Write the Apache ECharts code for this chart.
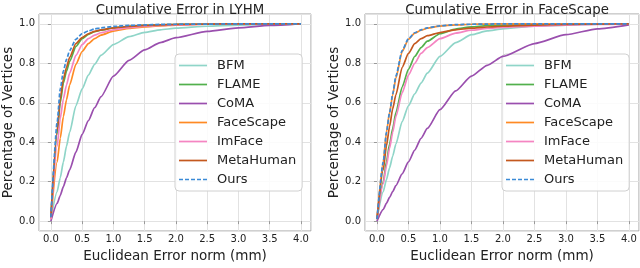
<!DOCTYPE html>
<html><head><meta charset="utf-8">
<script src="https://cdn.jsdelivr.net/npm/echarts@6/dist/echarts.min.js"></script>
<style>html,body{margin:0;padding:0;background:#fff}#c{width:640px;height:268px}</style>
</head><body><div id="c"></div><script>
// error thresholds (mm)
const xs = [0, 0.1, 0.15, 0.2, 0.25, 0.3, 0.4, 0.5, 0.6, 0.7, 0.8, 1.0, 1.25, 1.5, 1.75, 2.0, 2.5, 3.0, 3.5, 4.0];
const names = ['BFM', 'FLAME', 'CoMA', 'FaceScape', 'ImFace', 'MetaHuman', 'Ours'];
const titles = ['Cumulative Error in LYHM', 'Cumulative Error in FaceScape'];
const xTicks = [0, 0.5, 1.0, 1.5, 2.0, 2.5, 3.0, 3.5, 4.0];
const yTicks = [0.0, 0.2, 0.4, 0.6, 0.8, 1.0];

// LYHM
const lyhmBFM       = [0.01,0.15,0.22,0.30,0.38,0.45,0.585,0.67,0.74,0.795,0.84,0.895,0.935,0.957,0.97,0.978,0.988,0.994,0.997,1.0];
const lyhmFLAME     = [0.02,0.44,0.60,0.70,0.76,0.81,0.885,0.925,0.947,0.96,0.968,0.979,0.987,0.992,0.995,0.997,0.999,1.0,1.0,1.0];
const lyhmCoMA      = [0.0,0.09,0.13,0.175,0.22,0.26,0.35,0.44,0.51,0.575,0.63,0.735,0.815,0.868,0.905,0.93,0.962,0.98,0.992,1.0];
const lyhmFaceScape = [0.01,0.30,0.42,0.53,0.615,0.69,0.795,0.86,0.90,0.925,0.943,0.963,0.977,0.985,0.99,0.994,0.998,0.999,1.0,1.0];
const lyhmImFace    = [0.01,0.38,0.52,0.62,0.69,0.75,0.84,0.895,0.925,0.943,0.955,0.97,0.981,0.988,0.992,0.995,0.998,0.999,1.0,1.0];
const lyhmMetaHuman = [0.02,0.46,0.62,0.72,0.78,0.83,0.90,0.93,0.95,0.962,0.97,0.98,0.987,0.992,0.995,0.997,0.999,1.0,1.0,1.0];
const lyhmOurs      = [0.02,0.50,0.67,0.76,0.82,0.865,0.922,0.951,0.964,0.974,0.98,0.987,0.992,0.995,0.997,0.998,0.999,1.0,1.0,1.0];

// FaceScape
const fsBFM       = [0.01,0.15,0.21,0.27,0.33,0.39,0.505,0.585,0.645,0.70,0.75,0.835,0.905,0.945,0.964,0.975,0.988,0.994,0.998,1.0];
const fsFLAME     = [0.01,0.20,0.30,0.39,0.47,0.55,0.68,0.77,0.835,0.88,0.912,0.95,0.974,0.985,0.991,0.994,0.998,0.999,1.0,1.0];
const fsCoMA      = [0.0,0.06,0.09,0.12,0.15,0.18,0.24,0.30,0.36,0.42,0.47,0.565,0.66,0.735,0.79,0.835,0.90,0.945,0.975,0.995];
const fsFaceScape = [0.01,0.30,0.45,0.55,0.64,0.725,0.86,0.922,0.953,0.968,0.978,0.989,0.995,0.998,0.999,1.0,1.0,1.0,1.0,1.0];
const fsImFace    = [0.01,0.19,0.28,0.37,0.45,0.53,0.65,0.74,0.80,0.85,0.88,0.925,0.953,0.968,0.977,0.982,0.989,0.994,0.997,1.0];
const fsMetaHuman = [0.01,0.26,0.38,0.48,0.57,0.64,0.78,0.85,0.90,0.925,0.94,0.956,0.97,0.978,0.984,0.988,0.994,0.997,0.999,1.0];
const fsOurs      = [0.01,0.30,0.45,0.55,0.645,0.735,0.865,0.925,0.955,0.97,0.98,0.99,0.996,0.998,0.999,1.0,1.0,1.0,1.0,1.0];

const colors = ['#8fd5c8', '#52b04c', '#9a4fae', '#ff8a24', '#f585c2', '#c4581e', '#3b8ad6'];
const panels = [
  [lyhmBFM, lyhmFLAME, lyhmCoMA, lyhmFaceScape, lyhmImFace, lyhmMetaHuman, lyhmOurs],
  [fsBFM, fsFLAME, fsCoMA, fsFaceScape, fsImFace, fsMetaHuman, fsOurs]
];

const FONT = 'DejaVu Sans';
const grids = [
  {left: 39, top: 14, width: 272, height: 224},
  {left: 365, top: 14, width: 274, height: 224}
];
const centers = [175, 502];
const solidIcon = 'path://M0,0h28v1.7h-28z';
const dashIcon = 'path://M0,0h4v1.7h-4zM6,0h4v1.7h-4zM12,0h4v1.7h-4zM18,0h4v1.7h-4zM24,0h4v1.7h-4z';

function xAxis(i) {
  return {
    type: 'value', gridIndex: i, min: -0.19, max: 4.16, splitNumber: 9,
    name: 'Euclidean Error norm (mm)', nameLocation: 'middle', nameGap: 18,
    nameTextStyle: {fontFamily: FONT, fontSize: 13.5, color: '#222'},
    axisLine: {show: false},
    axisTick: {show: true, length: 3, lineStyle: {color: '#999'}},
    axisLabel: {fontFamily: FONT, fontSize: 10, color: '#222', margin: 3,
      showMinLabel: false, showMaxLabel: false,
      formatter: v => (xTicks.some(t => Math.abs(t - v) < 1e-6) ? v.toFixed(1) : '')},
    splitLine: {show: true, lineStyle: {color: '#e2e2e2', width: 1}}
  };
}
function yAxis(i) {
  return {
    type: 'value', gridIndex: i, min: -0.05, max: 1.05, splitNumber: 5,
    name: 'Percentage of Vertices', nameLocation: 'middle', nameGap: 24,
    nameTextStyle: {fontFamily: FONT, fontSize: 13.5, color: '#222'},
    axisLine: {show: false},
    axisTick: {show: true, length: 3, lineStyle: {color: '#999'}},
    axisLabel: {fontFamily: FONT, fontSize: 10, color: '#222', margin: 4,
      showMinLabel: false, showMaxLabel: false,
      formatter: v => (yTicks.some(t => Math.abs(t - v) < 1e-6) ? v.toFixed(1) : '')},
    splitLine: {show: true, lineStyle: {color: '#e2e2e2', width: 1}}
  };
}

const series = [];
panels.forEach((arrs, p) => {
  arrs.forEach((arr, k) => {
    series.push({
      type: 'line', name: names[k], xAxisIndex: p, yAxisIndex: p,
      data: xs.map((x, j) => [x, arr[j]]),
      symbol: 'none', smooth: 0.2, smoothMonotone: 'x',
      lineStyle: {color: colors[k], width: 1.7, type: k === 6 ? [4, 2] : 'solid'},
      itemStyle: {color: colors[k]},
      z: 2 + k, animation: false
    });
  });
});

const chart = echarts.init(document.getElementById('c'), null, {renderer: 'canvas'});
chart.setOption({
  animation: false,
  backgroundColor: '#fff',
  title: titles.map((t, i) => ({
    text: t, left: centers[i], top: -1, textAlign: 'center',
    textStyle: {fontFamily: FONT, fontSize: 13.3, fontWeight: 'normal', color: '#222'}
  })),
  grid: grids.map(g => Object.assign({show: true, borderColor: '#a0a0a0', borderWidth: 1, backgroundColor: 'transparent'}, g)),
  xAxis: [xAxis(0), xAxis(1)],
  yAxis: [yAxis(0), yAxis(1)],
  legend: [0, 1].map(i => ({
    data: names.map((n, k) => ({name: n, icon: k === 6 ? dashIcon : solidIcon})),
    orient: 'vertical', left: i === 0 ? 175 : 502, top: 54,
    itemWidth: 28, itemHeight: 14, itemGap: 6, symbolKeepAspect: true,
    padding: [5, 6, 5, 4],
    backgroundColor: 'rgba(255,255,255,0.85)', borderColor: '#d0d0d0', borderWidth: 1, borderRadius: 4,
    textStyle: {fontFamily: FONT, fontSize: 13, color: '#222', padding: [0, 0, 0, 5]},
    selectedMode: false
  })),
  series: series
});
</script></body></html>
